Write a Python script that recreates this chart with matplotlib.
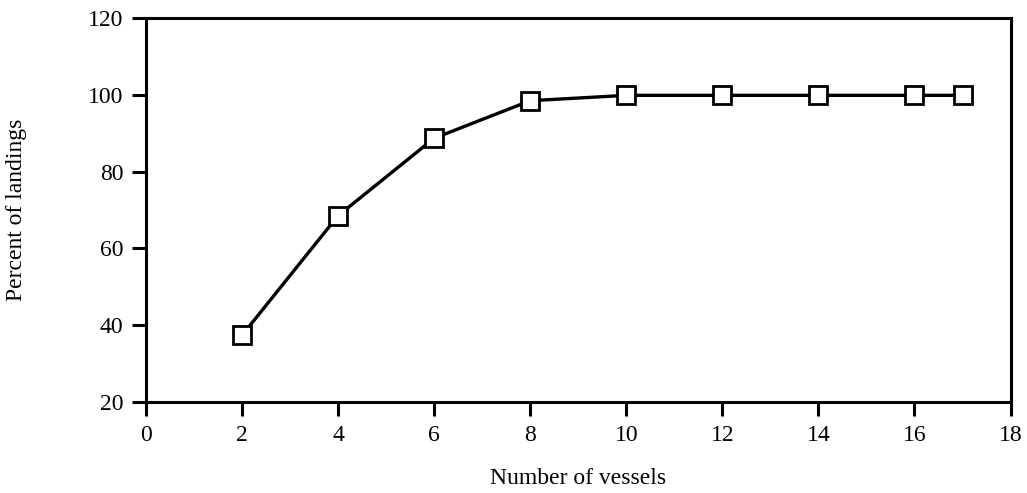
import matplotlib
matplotlib.use("Agg")
import matplotlib.pyplot as plt

vessels = [2, 4, 6, 8, 10, 12, 14, 16, 17]
percent = [37.3, 68.5, 88.7, 98.5, 99.9, 99.9, 99.9, 99.9, 99.9]
xticks = [0, 2, 4, 6, 8, 10, 12, 14, 16, 18]
yticks = [20, 40, 60, 80, 100, 120]

plt.rcParams['font.family'] = ['Liberation Serif', 'DejaVu Serif']

fig = plt.figure(figsize=(10.27, 4.93), dpi=100)
ax = fig.add_axes([0.142, 0.185, 0.842, 0.778])
ax.plot(vessels, percent, color='black', linewidth=2.4, marker='s', markersize=12.5,
        markerfacecolor='white', markeredgecolor='black', markeredgewidth=2, clip_on=False)
ax.set_xlim(0, 18)
ax.set_ylim(20, 120)
ax.set_xticks(xticks)
ax.set_yticks(yticks)
for s in ax.spines.values():
    s.set_linewidth(2.2)
ax.tick_params(direction='out', length=10, width=2.2, labelsize=17)
ax.tick_params(axis='x', pad=7)
ax.tick_params(axis='y', pad=6)
ax.set_xlabel('Number of vessels', fontsize=17)
ax.set_ylabel('Percent of landings', fontsize=17)
ax.xaxis.set_label_coords(0.5, -0.172)
ax.yaxis.set_label_coords(-0.137, 0.5)
fig.savefig('out.png', dpi=100)
